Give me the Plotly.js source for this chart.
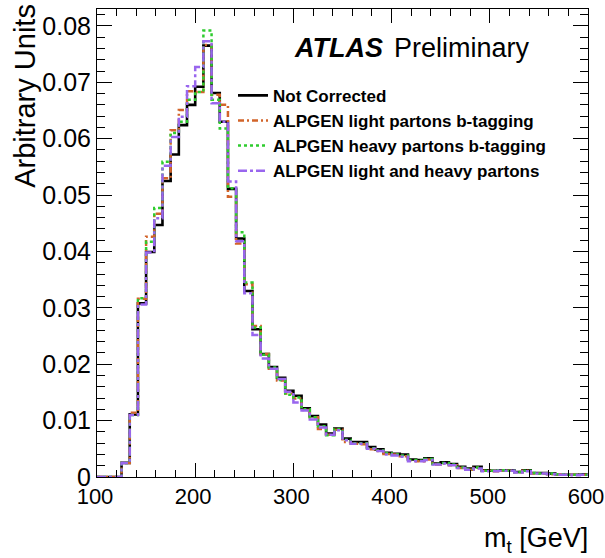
<!DOCTYPE html>
<html>
<head>
<meta charset="utf-8">
<script src="https://cdn.plot.ly/plotly-3.0.1.min.js"></script>
<style>html,body{margin:0;padding:0;background:#fff;}#chart{width:605px;height:558px;}</style>
</head>
<body>
<div id="chart"></div>
<script>
// Histogram binning: 60 bins from 100 to 600 GeV
const xLow = 100, xHigh = 600, nBins = 60;

const seriesNames = [
  "Not Corrected",
  "ALPGEN light partons b-tagging",
  "ALPGEN heavy partons b-tagging",
  "ALPGEN light and heavy partons"
];

const notCorrected = [
  0, 0, 0, 0.0025, 0.0111, 0.0308, 0.0399, 0.0447, 0.0525, 0.0572,
  0.0624, 0.0660, 0.0692, 0.0765, 0.0681, 0.0630, 0.0511, 0.0423, 0.0330, 0.0262,
  0.0218, 0.0195, 0.0176, 0.0153, 0.0144, 0.0122, 0.0108, 0.0093, 0.0077, 0.0086,
  0.0068, 0.0062, 0.0062, 0.0053, 0.0049, 0.0043, 0.0041, 0.0040, 0.0031, 0.0030,
  0.0033, 0.0024, 0.0026, 0.0023, 0.0018, 0.0015, 0.0018, 0.0012, 0.0011, 0.0012,
  0.0012, 0.0009, 0.0012, 0.0007, 0.0007, 0.0006, 0.0005, 0.0004, 0.0004, 0.0005
];

const lightBtag = [
  0, 0, 0, 0.0025, 0.0114, 0.0316, 0.0426, 0.0467, 0.0530, 0.0615,
  0.0651, 0.0684, 0.0683, 0.0766, 0.0678, 0.0660, 0.0497, 0.0414, 0.0342, 0.0268,
  0.0218, 0.0192, 0.0171, 0.0148, 0.0139, 0.0119, 0.0106, 0.0085, 0.0075, 0.0084,
  0.0062, 0.0059, 0.0058, 0.0049, 0.0046, 0.0041, 0.0040, 0.0037, 0.0029, 0.0028,
  0.0031, 0.0022, 0.0024, 0.0021, 0.0016, 0.0013, 0.0016, 0.0011, 0.0010, 0.0011,
  0.0011, 0.0009, 0.0011, 0.0006, 0.0006, 0.0005, 0.0005, 0.0004, 0.0004, 0.0004
];

const heavyBtag = [
  0, 0, 0, 0.0025, 0.0110, 0.0317, 0.0417, 0.0477, 0.0559, 0.0610,
  0.0630, 0.0669, 0.0683, 0.0792, 0.0669, 0.0618, 0.0512, 0.0434, 0.0345, 0.0265,
  0.0217, 0.0194, 0.0172, 0.0146, 0.0141, 0.0120, 0.0106, 0.0090, 0.0074, 0.0085,
  0.0066, 0.0060, 0.0060, 0.0051, 0.0047, 0.0042, 0.0040, 0.0038, 0.0030, 0.0029,
  0.0032, 0.0023, 0.0025, 0.0022, 0.0017, 0.0014, 0.0017, 0.0011, 0.0011, 0.0012,
  0.0011, 0.0009, 0.0011, 0.0007, 0.0006, 0.0006, 0.0005, 0.0004, 0.0004, 0.0004
];

const lightHeavy = [
  0, 0, 0, 0.0025, 0.0110, 0.0306, 0.0398, 0.0459, 0.0552, 0.0603,
  0.0639, 0.0693, 0.0727, 0.0773, 0.0663, 0.0630, 0.0524, 0.0418, 0.0326, 0.0252,
  0.0210, 0.0192, 0.0174, 0.0151, 0.0132, 0.0118, 0.0102, 0.0088, 0.0075, 0.0083,
  0.0065, 0.0059, 0.0059, 0.0050, 0.0046, 0.0040, 0.0038, 0.0036, 0.0028, 0.0028,
  0.0030, 0.0022, 0.0024, 0.0021, 0.0016, 0.0013, 0.0015, 0.0010, 0.0010, 0.0011,
  0.0011, 0.0008, 0.0010, 0.0006, 0.0006, 0.0005, 0.0004, 0.0004, 0.0003, 0.0004
];

const colors = ["#000000", "#d2642a", "#2ecc2e", "#9966ee"];
const dashes = ["solid", "6px,3px,2px,3px", "3px,3px", "9px,3px,3px,3px"];
const widths = [2.6, 2.5, 2.5, 2.5];

const edges = [];
for (let i = 0; i <= nBins; i++) edges.push(xLow + i * (xHigh - xLow) / nBins);

function stepTrace(vals, i) {
  return {
    type: "scatter", mode: "lines",
    x: edges,
    y: vals.concat([vals[vals.length - 1]]),
    name: seriesNames[i],
    line: {shape: "hv", color: colors[i], width: widths[i], dash: dashes[i]},
    hoverinfo: "skip"
  };
}

const data = [notCorrected, lightBtag, heavyBtag, lightHeavy].map(stepTrace);

const FONT = "Liberation Sans, Arial, Helvetica, sans-serif";

const layout = {
  width: 605, height: 558,
  margin: {l: 97, r: 17, t: 9, b: 81, pad: 0},
  paper_bgcolor: "#ffffff", plot_bgcolor: "#ffffff",
  font: {family: FONT, color: "#000"},
  showlegend: true,
  legend: {
    x: 0.277, y: 0.853, xanchor: "left", yanchor: "top",
    bgcolor: "rgba(0,0,0,0)", borderwidth: 0,
    font: {family: FONT, size: 17, color: "#000", weight: "bold"},
    tracegroupgap: 0
  },
  xaxis: {
    range: [xLow, xHigh], tick0: 100, dtick: 100,
    ticks: "inside", ticklen: 14, tickwidth: 1, tickcolor: "#000",
    showline: true, linecolor: "#000", linewidth: 1, mirror: "ticks",
    showgrid: false, zeroline: false, ticklabeloverflow: "allow", ticklabelshift: -2,
    minor: {dtick: 20, tick0: 100, ticks: "inside", ticklen: 7, tickwidth: 1, tickcolor: "#000", showgrid: false},
    tickfont: {family: FONT, size: 22, color: "#000"}
  },
  yaxis: {
    range: [0, 0.083], tick0: 0, dtick: 0.01,
    ticks: "inside", ticklen: 15, tickwidth: 1, tickcolor: "#000",
    showline: true, linecolor: "#000", linewidth: 1, mirror: "ticks",
    showgrid: false, zeroline: false, ticklabeloverflow: "allow",
    minor: {dtick: 0.002, tick0: 0, ticks: "inside", ticklen: 8, tickwidth: 1, tickcolor: "#000", showgrid: false},
    tickfont: {family: FONT, size: 25, color: "#000"}
  },
  annotations: [
    {text: "Arbitrary Units", textangle: -90, xref: "paper", yref: "paper",
     x: -0.147, y: 1.015, xanchor: "center", yanchor: "top", showarrow: false,
     font: {family: FONT, size: 29, color: "#000"}},
    {text: "m<sub>t</sub> [GeV]", xref: "paper", yref: "paper",
     x: 1.004, y: -0.135, xanchor: "right", yanchor: "middle", showarrow: false,
     font: {family: FONT, size: 27, color: "#000"}},
    {text: "<b><i>ATLAS</i></b>", xref: "paper", yref: "paper",
     x: 0.397, y: 0.917, xanchor: "left", yanchor: "middle", showarrow: false,
     font: {family: FONT, size: 27, color: "#000"}},
    {text: "Preliminary", xref: "paper", yref: "paper",
     x: 0.6, y: 0.917, xanchor: "left", yanchor: "middle", showarrow: false,
     font: {family: FONT, size: 27, color: "#000"}}
  ]
};

Plotly.newPlot("chart", data, layout, {staticPlot: true, displayModeBar: false});
</script>
</body>
</html>
